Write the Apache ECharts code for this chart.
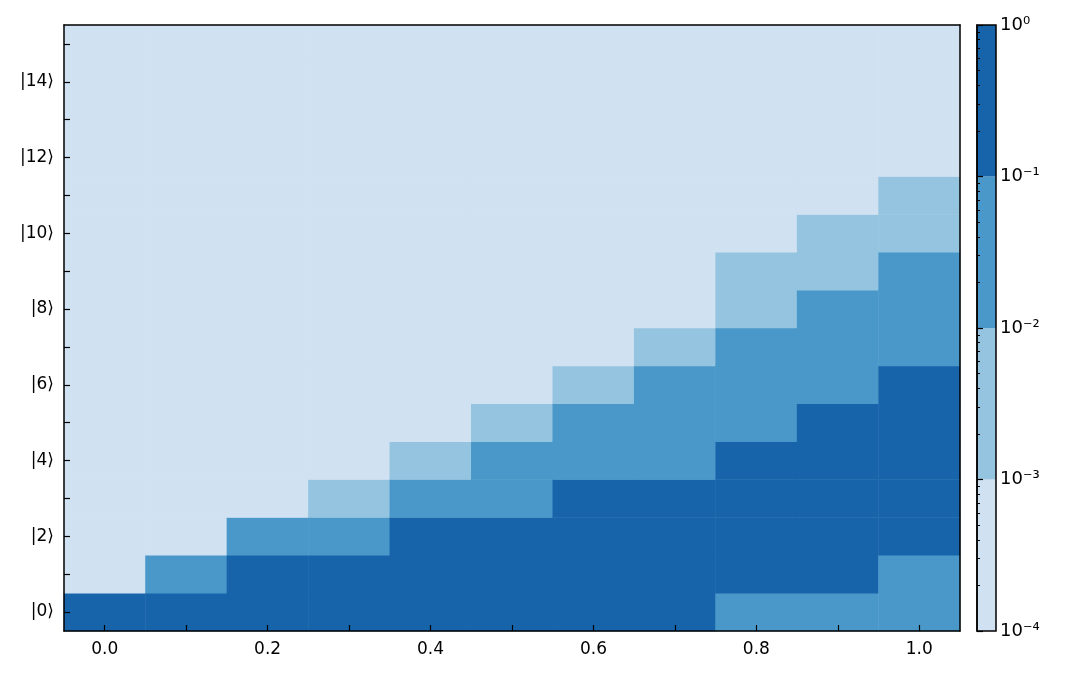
<!DOCTYPE html>
<html><head><meta charset="utf-8">
<script src="https://cdn.jsdelivr.net/npm/echarts@6/dist/echarts.min.js"></script>
<style>html,body{margin:0;background:#fff}#c{width:1067px;height:673px}</style>
</head><body><div id="c"></div>
<script>
// x values (columns) and basis states (rows)
const xCats = ['0.0','0.1','0.2','0.3','0.4','0.5','0.6','0.7','0.8','0.9','1.0'];
const states = Array.from({length: 16}, (_, i) => '|' + i + '\u27E9');
// probabilities per column, rows 0..15 (approx)
const L = 1e-5, A = 3e-3, B = 3e-2, D = 0.3;
const probs = [
  [D,L,L,L,L,L,L,L,L,L,L,L,L,L,L,L],
  [D,B,L,L,L,L,L,L,L,L,L,L,L,L,L,L],
  [D,D,B,L,L,L,L,L,L,L,L,L,L,L,L,L],
  [D,D,B,A,L,L,L,L,L,L,L,L,L,L,L,L],
  [D,D,D,B,A,L,L,L,L,L,L,L,L,L,L,L],
  [D,D,D,B,B,A,L,L,L,L,L,L,L,L,L,L],
  [D,D,D,D,B,B,A,L,L,L,L,L,L,L,L,L],
  [D,D,D,D,B,B,B,A,L,L,L,L,L,L,L,L],
  [B,D,D,D,D,B,B,B,A,A,L,L,L,L,L,L],
  [B,D,D,D,D,D,B,B,B,A,A,L,L,L,L,L],
  [B,B,D,D,D,D,D,B,B,B,A,A,L,L,L,L]
];
const bandEdges = [1e-4, 1e-3, 1e-2, 1e-1, 1];
const bandColors = ['#d0e1f2', '#94c4df', '#4a98c9', '#1764ab'];

const heat = [];
probs.forEach((col, i) => col.forEach((p, j) => heat.push([i, j, p])));
const bands = bandColors.map((c, k) => [bandEdges[k], bandEdges[k + 1], k]);

const sup = {'-':'\u207B','0':'\u2070','1':'\u00B9','2':'\u00B2','3':'\u00B3','4':'\u2074'};
const font = 'DejaVu Sans';
const tick = {color: '#000', width: 1.2};
const chart = echarts.init(document.getElementById('c'));
chart.setOption({
  animation: false,
  textStyle: {fontFamily: font},
  grid: [
    {left: 64, top: 25, width: 896, height: 606},
    {left: 977, top: 25, width: 19, height: 606}
  ],
  xAxis: [
    {type: 'category', data: xCats, gridIndex: 0, z: 10,
     axisLine: {lineStyle: {color: '#000', width: 1.5}},
     axisTick: {show: true, alignWithLabel: true, interval: 0, inside: true, length: 6, lineStyle: tick},
     axisLabel: {interval: 1, color: '#000', fontSize: 17, fontFamily: font, margin: 10}},
    {type: 'category', data: xCats, gridIndex: 0, position: 'top', z: 10,
     axisLine: {lineStyle: {color: '#000', width: 1.5}},
     axisTick: {show: false}, axisLabel: {show: false}},
    {type: 'value', gridIndex: 1, min: 0, max: 1, show: false}
  ],
  yAxis: [
    {type: 'category', data: states, gridIndex: 0, z: 10,
     axisLine: {lineStyle: {color: '#000', width: 1.5}},
     axisTick: {show: true, alignWithLabel: true, interval: 0, inside: true, length: 6, lineStyle: tick},
     axisLabel: {interval: 1, color: '#000', fontSize: 17, fontFamily: font, margin: 10}},
    {type: 'category', data: states, gridIndex: 0, position: 'right', z: 10,
     axisLine: {lineStyle: {color: '#000', width: 1.5}},
     axisTick: {show: false}, axisLabel: {show: false}},
    {type: 'log', gridIndex: 1, min: 1e-4, max: 1, logBase: 10, position: 'right', z: 10,
     axisLine: {show: true, lineStyle: {color: '#000', width: 1.5}},
     axisTick: {inside: false, length: 6, lineStyle: tick},
     minorTick: {show: true, splitNumber: 9, length: 3, lineStyle: {color: '#000'}},
     splitLine: {show: false},
     axisLabel: {color: '#000', fontSize: 18, fontFamily: font, margin: 4,
       formatter: v => '10' + String(Math.round(Math.log10(v))).split('').map(ch => sup[ch]).join('')}}
  ],
  visualMap: {show: false, type: 'piecewise', seriesIndex: 0, dimension: 2,
    pieces: [
      {lt: 1e-3, color: bandColors[0]},
      {gte: 1e-3, lt: 1e-2, color: bandColors[1]},
      {gte: 1e-2, lt: 1e-1, color: bandColors[2]},
      {gte: 1e-1, color: bandColors[3]}
    ]},
  series: [
    {type: 'heatmap', xAxisIndex: 0, yAxisIndex: 0, data: heat, z: 1, itemStyle: {borderWidth: 0}},
    {type: 'custom', xAxisIndex: 2, yAxisIndex: 2, data: bands, z: 1,
     renderItem: (params, api) => {
       const p1 = api.coord([0, api.value(1)]);
       const p2 = api.coord([1, api.value(0)]);
       return {type: 'rect', shape: {x: p1[0], y: p1[1], width: p2[0] - p1[0], height: p2[1] - p1[1]},
               style: {fill: bandColors[api.value(2)], lineWidth: 0}};
     }},
    {type: 'custom', xAxisIndex: 2, yAxisIndex: 2, data: [[1e-4, 1]], z: 3,
     renderItem: (params, api) => {
       const p1 = api.coord([0, api.value(1)]);
       const p2 = api.coord([1, api.value(0)]);
       return {type: 'rect', shape: {x: p1[0], y: p1[1], width: p2[0] - p1[0], height: p2[1] - p1[1]},
               style: {fill: 'none', stroke: '#000', lineWidth: 1.5}};
     }}
  ]
});
</script></body></html>
